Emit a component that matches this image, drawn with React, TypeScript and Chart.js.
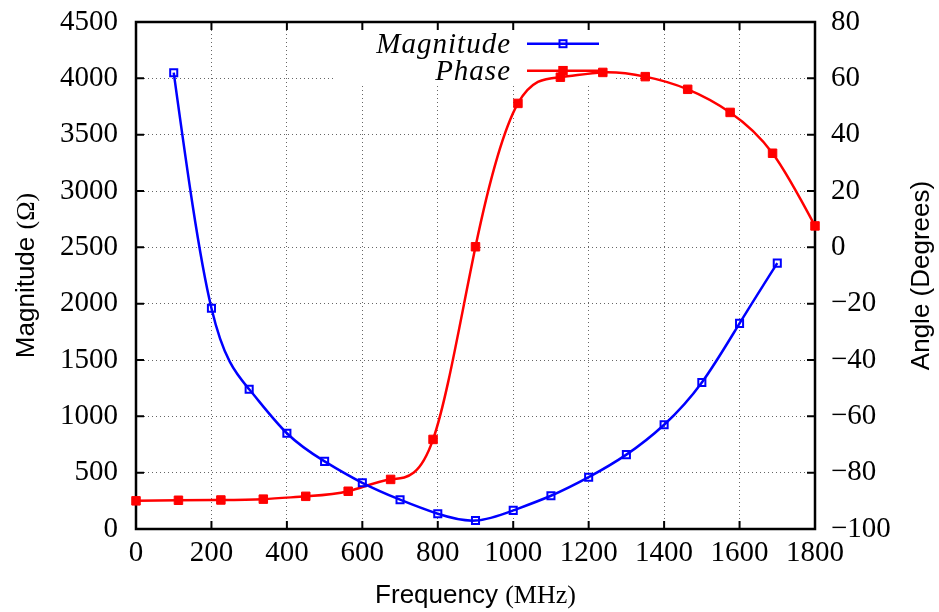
import React, { useEffect, useRef } from "react";
import { Chart, registerables } from "chart.js";

Chart.register(...registerables);

// ---- data ----
const magnitudeFreq = [100, 200, 300, 400, 500, 600, 700, 800, 900, 1000, 1100, 1200, 1300, 1400, 1500, 1600, 1700];
const magnitudeOhm = [4050, 1960, 1240, 850, 600, 410, 260, 135, 75, 165, 295, 460, 660, 925, 1300, 1825, 2360];
const phaseFreq = [0, 112.5, 225, 337.5, 450, 562.5, 675, 787.5, 900, 1012.5, 1125, 1237.5, 1350, 1462.5, 1575, 1687.5, 1800];
const phaseDeg = [-90, -89.8, -89.7, -89.4, -88.4, -86.6, -82.4, -68.2, 0.2, 51.1, 60.4, 62.1, 60.6, 56.1, 47.9, 33.4, 7.6];
const seriesLabels = ["Magnitude", "Phase"];
const seriesColors = ["#0000ff", "#ff0000"];
const xRange = [0, 1800, 200];
const yRange = [0, 4500, 500];
const y2Range = [-100, 80, 20];
const xTitle = ["Frequency ", "(MHz)"];
const yTitle = ["Magnitude ", "(Ω)"];
const y2Title = "Angle (Degrees)";

const SANS = '"Liberation Sans", Arial, sans-serif';
const SERIF = '"Liberation Serif", "Times New Roman", serif';

const fmt = (v: number) => (v < 0 ? "\u2212" + Math.abs(v) : String(v));

const noPad = (s: any) => {
  s.paddingTop = 0;
  s.paddingBottom = 0;
  s.paddingLeft = 0;
  s.paddingRight = 0;
};

// natural cubic spline (like gnuplot "smooth csplines") expressed as the
// bezier control points of Chart.js's own line element
const splinePlugin = {
  id: "naturalSpline",
  beforeDatasetDraw(chart: any, args: any) {
    const meta = args.meta;
    const pts = meta.data;
    const n = pts.length;
    if (n < 3) return;
    const x = pts.map((p: any) => p.x);
    const y = pts.map((p: any) => p.y);
    const h: number[] = [];
    for (let i = 0; i < n - 1; i++) h.push(x[i + 1] - x[i]);
    // solve for second derivatives M (natural: M0 = Mn-1 = 0)
    const M = new Array(n).fill(0);
    const a: number[] = new Array(n).fill(0);
    const b: number[] = new Array(n).fill(0);
    const c: number[] = new Array(n).fill(0);
    const d: number[] = new Array(n).fill(0);
    for (let i = 1; i < n - 1; i++) {
      a[i] = h[i - 1];
      b[i] = 2 * (h[i - 1] + h[i]);
      c[i] = h[i];
      d[i] = 6 * ((y[i + 1] - y[i]) / h[i] - (y[i] - y[i - 1]) / h[i - 1]);
    }
    // Thomas algorithm on rows 1..n-2
    for (let i = 2; i < n - 1; i++) {
      const w = a[i] / b[i - 1];
      b[i] -= w * c[i - 1];
      d[i] -= w * d[i - 1];
    }
    for (let i = n - 2; i >= 1; i--) {
      M[i] = (d[i] - (i < n - 2 ? c[i] * M[i + 1] : 0)) / b[i];
    }
    const m: number[] = new Array(n).fill(0);
    for (let i = 0; i < n - 1; i++) {
      m[i] = (y[i + 1] - y[i]) / h[i] - (h[i] * (2 * M[i] + M[i + 1])) / 6;
    }
    m[n - 1] = (y[n - 1] - y[n - 2]) / h[n - 2] + (h[n - 2] * (M[n - 2] + 2 * M[n - 1])) / 6;
    for (let i = 0; i < n; i++) {
      const p = pts[i];
      const hl = i > 0 ? h[i - 1] : 0;
      const hr = i < n - 1 ? h[i] : 0;
      p.cp1x = x[i] - hl / 3;
      p.cp1y = y[i] - (m[i] * hl) / 3;
      p.cp2x = x[i] + hr / 3;
      p.cp2y = y[i] + (m[i] * hr) / 3;
    }
    meta.dataset._pointsUpdated = true;
    meta.dataset._path = undefined;
  },
};

const decorPlugin = {
  id: "decor",
  beforeDatasetsDraw(chart: any) {
    const { ctx, chartArea: a, scales } = chart;
    const xs = scales.x, ys = scales.y, y2 = scales.y1;
    ctx.save();
    // opaque key box hides the grid behind the legend
    const kx1 = xs.getPixelForValue(527);
    const kx2 = xs.getPixelForValue(1270);
    const ky = ys.getPixelForValue(3950);
    ctx.fillStyle = "#ffffff";
    ctx.fillRect(kx1, a.top, kx2 - kx1, ky - a.top);
    // inward tick marks
    const tl = 8;
    ctx.strokeStyle = "#000";
    ctx.lineWidth = 2;
    ctx.beginPath();
    xs.ticks.forEach((t: any) => {
      const p = xs.getPixelForValue(t.value);
      ctx.moveTo(p, a.bottom);
      ctx.lineTo(p, a.bottom - tl);
      ctx.moveTo(p, a.top);
      ctx.lineTo(p, a.top + tl);
    });
    ys.ticks.forEach((t: any) => {
      const p = ys.getPixelForValue(t.value);
      ctx.moveTo(a.left, p);
      ctx.lineTo(a.left + tl, p);
    });
    y2.ticks.forEach((t: any) => {
      const p = y2.getPixelForValue(t.value);
      ctx.moveTo(a.right, p);
      ctx.lineTo(a.right - tl, p);
    });
    ctx.stroke();
    // frame
    ctx.lineWidth = 2.5;
    ctx.strokeRect(a.left, a.top, a.right - a.left, a.bottom - a.top);
    ctx.restore();
  },
  afterDatasetsDraw(chart: any) {
    const { ctx, chartArea: a } = chart;
    ctx.save();
    // legend
    chart.data.datasets.forEach((ds: any, i: number) => {
      const rowY = a.top + 21.7 + i * 27;
      ctx.font = `italic 29px ${SERIF}`;
      (ctx as any).letterSpacing = "1px";
      ctx.fillStyle = "#000";
      ctx.textAlign = "right";
      ctx.textBaseline = "alphabetic";
      ctx.fillText(ds.label, a.left + 375, rowY + 9);
      (ctx as any).letterSpacing = "0px";
      const lx1 = a.left + 391, lx2 = a.left + 463;
      ctx.strokeStyle = ds.borderColor;
      ctx.lineWidth = 2.5;
      ctx.beginPath();
      ctx.moveTo(lx1, rowY);
      ctx.lineTo(lx2, rowY);
      ctx.stroke();
      const cx = (lx1 + lx2) / 2;
      if (i === 0) {
        ctx.lineWidth = 2;
        ctx.strokeRect(cx - 3.5, rowY - 3.5, 7, 7);
      } else {
        ctx.fillStyle = ds.borderColor;
        ctx.fillRect(cx - 4.75, rowY - 4.75, 9.5, 9.5);
      }
    });
    ctx.fillStyle = "#000";
    // x title
    ctx.textBaseline = "alphabetic";
    ctx.textAlign = "left";
    ctx.font = `26px ${SANS}`;
    const w1 = ctx.measureText(xTitle[0]).width;
    ctx.font = `26px ${SERIF}`;
    const w2 = ctx.measureText(xTitle[1]).width;
    const cxT = (a.left + a.right) / 2;
    let sx = cxT - (w1 + w2) / 2;
    ctx.font = `26px ${SANS}`;
    ctx.fillText(xTitle[0], sx, 603);
    ctx.font = `26px ${SERIF}`;
    ctx.fillText(xTitle[1], sx + w1, 603);
    // left y title
    const cyT = (a.top + a.bottom) / 2;
    ctx.save();
    ctx.translate(34, cyT);
    ctx.rotate(-Math.PI / 2);
    ctx.font = `26px ${SANS}`;
    const v1 = ctx.measureText(yTitle[0]).width;
    ctx.font = `26px ${SERIF}`;
    const v2 = ctx.measureText(yTitle[1]).width;
    sx = -(v1 + v2) / 2;
    ctx.font = `26px ${SANS}`;
    ctx.fillText(yTitle[0], sx, 0);
    ctx.font = `26px ${SERIF}`;
    ctx.fillText(yTitle[1], sx + v1, 0);
    ctx.restore();
    // right y title
    ctx.save();
    ctx.translate(929, cyT);
    ctx.rotate(-Math.PI / 2);
    ctx.font = `26px ${SANS}`;
    ctx.textAlign = "center";
    ctx.fillText(y2Title, 0, 0);
    ctx.restore();
    ctx.restore();
  },
};

export default function App() {
  const ref = useRef<HTMLCanvasElement | null>(null);
  useEffect(() => {
    if (!ref.current) return;
    const tickFont = { family: SERIF, size: 29 };
    const chart = new Chart(ref.current, {
      type: "line",
      data: {
        datasets: [
          {
            label: seriesLabels[0],
            data: magnitudeFreq.map((f, i) => ({ x: f, y: magnitudeOhm[i] })),
            yAxisID: "y",
            borderColor: seriesColors[0],
            backgroundColor: "rgba(0,0,0,0)",
            borderWidth: 2.5,
            pointStyle: "rect",
            pointRadius: 5,
            pointBorderWidth: 2,
            pointBorderColor: seriesColors[0],
            pointBackgroundColor: "rgba(0,0,0,0)",
            tension: 0.4,
            clip: false,
          },
          {
            label: seriesLabels[1],
            data: phaseFreq.map((f, i) => ({ x: f, y: phaseDeg[i] })),
            yAxisID: "y1",
            borderColor: seriesColors[1],
            backgroundColor: seriesColors[1],
            borderWidth: 2.5,
            pointStyle: "rect",
            pointRadius: 6,
            pointBorderWidth: 1,
            pointBorderColor: seriesColors[1],
            pointBackgroundColor: seriesColors[1],
            tension: 0.4,
            clip: false,
          },
        ] as any,
      },
      options: {
        animation: false,
        responsive: false,
        layout: { padding: { top: 22, left: 0, right: 0, bottom: 0 } },
        plugins: { legend: { display: false }, tooltip: { enabled: false } },
        scales: {
          x: {
            type: "linear",
            min: xRange[0],
            max: xRange[1],
            ticks: { stepSize: xRange[2], font: tickFont, color: "#000", padding: 7, maxRotation: 0, autoSkip: false, callback: (v: any) => fmt(v) },
            grid: { color: "rgba(0,0,0,0.6)", lineWidth: 1, drawTicks: false },
            border: { display: false, dash: [1, 3] },
            afterFit: (s: any) => { s.height = 83; noPad(s); },
          },
          y: {
            type: "linear",
            position: "left",
            min: yRange[0],
            max: yRange[1],
            ticks: { stepSize: yRange[2], font: tickFont, color: "#000", padding: 18, callback: (v: any) => fmt(v) },
            grid: { color: "rgba(0,0,0,0.6)", lineWidth: 1, drawTicks: false },
            border: { display: false, dash: [1, 3] },
            afterFit: (s: any) => { s.width = 136; noPad(s); },
          },
          y1: {
            type: "linear",
            position: "right",
            min: y2Range[0],
            max: y2Range[1],
            ticks: { stepSize: y2Range[2], font: tickFont, color: "#000", padding: 16, callback: (v: any) => fmt(v) },
            grid: { display: false, drawTicks: false },
            border: { display: false },
            afterFit: (s: any) => { s.width = 124; noPad(s); },
          },
        },
      } as any,
      plugins: [splinePlugin, decorPlugin],
    });
    return () => chart.destroy();
  }, []);
  return (
    <div style={{ position: "fixed", left: 0, top: 0, width: 939, height: 612, background: "#fff" }}>
      <canvas ref={ref} width={939} height={612} style={{ display: "block" }} />
    </div>
  );
}
